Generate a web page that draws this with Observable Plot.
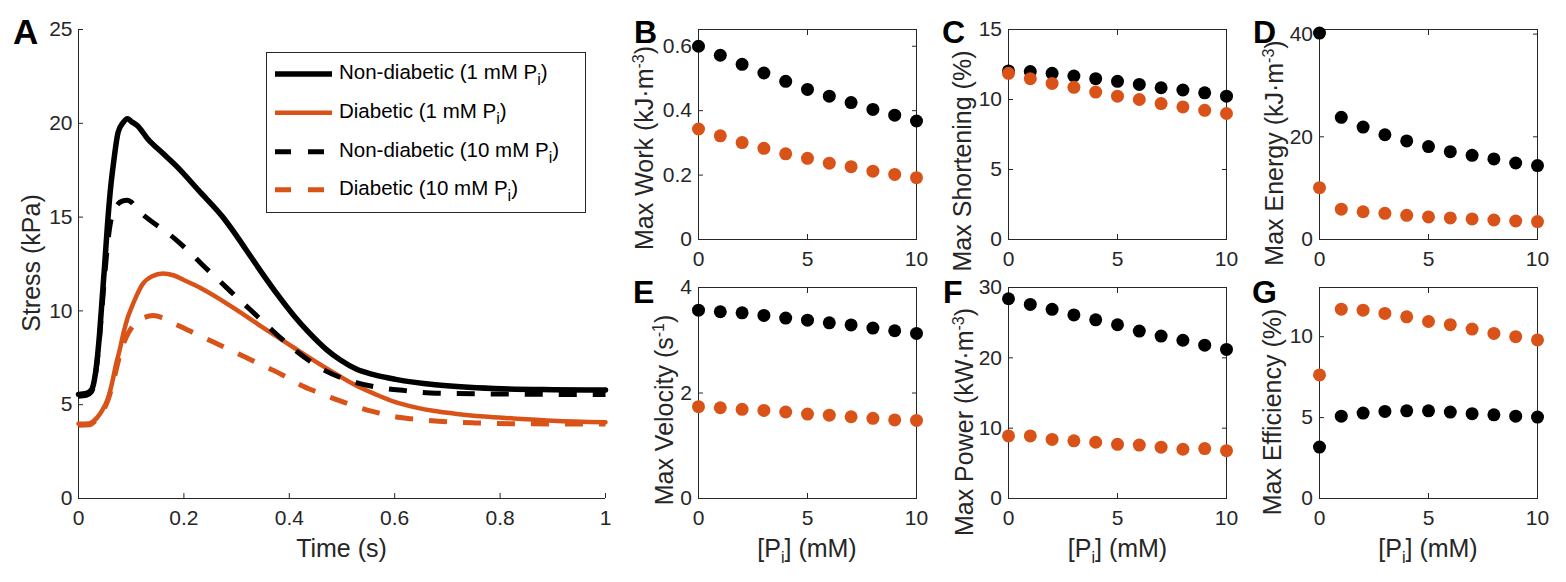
<!DOCTYPE html>
<html>
<head>
<meta charset="utf-8">
<script src="https://cdn.jsdelivr.net/npm/d3@7"></script>
<script src="https://cdn.jsdelivr.net/npm/@observablehq/plot@0.6"></script>
<style>
html,body{margin:0;padding:0;background:#fff;}
#fig{position:relative;width:1566px;height:582px;overflow:hidden;background:#fff;font-family:"Liberation Sans",Arial,Helvetica,sans-serif;}
#fig svg{position:absolute;overflow:visible;}
</style>
</head>
<body>
<div id="fig"></div>
<script>
// ---------- Panel A: stress transients ----------
const nd1T = [0,0.015,0.025,0.03,0.035,0.04,0.045,0.05,0.055,0.06,0.067,0.075,0.085,0.093,0.1,0.112,0.131,0.16,0.19,0.228,0.273,0.3,0.318,0.35,0.377,0.41,0.437,0.47,0.497,0.527,0.56,0.602,0.677,0.789,0.9,1.0];
const nd1S = [5.55,5.6,5.8,6.3,7.3,8.8,10.7,12.6,14.6,16.3,18.0,19.5,20.05,20.24,20.1,19.87,19.18,18.4,17.6,16.42,15.03,14.0,13.26,11.95,10.89,9.7,8.85,7.95,7.38,6.9,6.6,6.35,6.06,5.86,5.8,5.78];
const d1T = [0,0.02,0.034,0.045,0.056,0.064,0.071,0.078,0.086,0.094,0.101,0.11,0.122,0.14,0.16,0.18,0.198,0.23,0.265,0.3,0.34,0.378,0.415,0.45,0.489,0.525,0.564,0.6,0.639,0.676,0.714,0.77,0.826,0.9,1.0];
const d1S = [3.98,4.0,4.27,4.7,5.35,6.2,7.13,7.9,8.9,9.7,10.2,10.8,11.44,11.85,12.0,11.9,11.67,11.25,10.68,10.05,9.3,8.6,7.92,7.3,6.63,6.05,5.55,5.15,4.86,4.66,4.52,4.37,4.27,4.15,4.07];
const nd10T = [0,0.015,0.025,0.03,0.035,0.04,0.045,0.05,0.055,0.06,0.067,0.075,0.083,0.092,0.1,0.112,0.131,0.157,0.183,0.21,0.235,0.258,0.28,0.302,0.325,0.348,0.37,0.392,0.415,0.44,0.467,0.497,0.527,0.557,0.587,0.62,0.653,0.7,0.8,0.9,1.0];
const nd10S = [5.45,5.5,5.7,6.2,7.2,8.6,10.3,12.0,13.5,14.6,15.3,15.7,15.85,15.9,15.8,15.4,14.93,14.4,13.84,13.15,12.46,11.85,11.27,10.68,10.09,9.48,8.9,8.35,7.82,7.3,6.83,6.45,6.18,5.98,5.85,5.75,5.65,5.6,5.57,5.55,5.55];
const d10T = [0,0.02,0.034,0.045,0.056,0.064,0.071,0.078,0.086,0.095,0.108,0.125,0.142,0.16,0.18,0.206,0.232,0.258,0.284,0.31,0.34,0.37,0.396,0.422,0.452,0.482,0.512,0.542,0.571,0.6,0.63,0.661,0.7,0.751,0.85,1.0];
const d10S = [3.9,3.93,4.2,4.6,5.25,6.0,6.8,7.6,8.3,8.85,9.35,9.65,9.75,9.62,9.35,9.0,8.65,8.31,7.97,7.62,7.22,6.83,6.45,6.04,5.68,5.35,5.05,4.76,4.55,4.36,4.25,4.17,4.09,4.03,3.98,3.97];
const legendLabels = ["Non-diabetic (1 mM P", "Diabetic (1 mM P", "Non-diabetic (10 mM P", "Diabetic (10 mM P"];
const timeTicks = [0,0.2,0.4,0.6,0.8,1];
const stressTicks = [0,5,10,15,20,25];

// ---------- Panels B-G: [Pi] dependence ----------
const piConc   = [0,1,2,3,4,5,6,7,8,9,10];
const workND   = [0.600,0.572,0.544,0.517,0.491,0.466,0.445,0.425,0.404,0.386,0.368];
const workD    = [0.343,0.322,0.301,0.283,0.266,0.252,0.237,0.226,0.212,0.202,0.192];
const shortND  = [12.04,12.0,11.87,11.68,11.49,11.3,11.08,10.84,10.68,10.48,10.24];
const shortD   = [11.87,11.49,11.15,10.87,10.53,10.24,10.0,9.71,9.47,9.23,9.0];
const energyND = [40.2,23.8,21.9,20.4,19.2,18.1,17.1,16.4,15.7,14.9,14.4];
const energyD  = [10.1,5.9,5.4,5.1,4.7,4.4,4.2,4.0,3.8,3.6,3.5];
const velND    = [3.57,3.54,3.52,3.47,3.42,3.38,3.33,3.29,3.23,3.18,3.13];
const velD     = [1.74,1.72,1.69,1.67,1.64,1.60,1.58,1.55,1.52,1.49,1.48];
const powerND  = [28.4,27.6,26.9,26.1,25.4,24.7,23.8,23.1,22.5,21.8,21.2];
const powerD   = [8.9,8.9,8.4,8.2,8.0,7.7,7.6,7.3,7.0,7.1,6.8];
const effND    = [3.18,5.09,5.28,5.38,5.42,5.42,5.34,5.24,5.17,5.09,5.03];
const effD     = [7.64,11.7,11.64,11.44,11.23,10.94,10.74,10.47,10.2,10.0,9.8];
const piTicks  = [0,5,10];

const ORANGE = "#D95319";
const AX = "#262626";
const FONT = '"Liberation Sans", Arial, Helvetica, sans-serif';
const fig = document.getElementById("fig");
const fmt = d => String(d);

function place(svg, left, top) {
  svg.style.left = left + "px";
  svg.style.top = top + "px";
  fig.appendChild(svg);
}

// ---- Panel A ----
{
  const ml = 78, mr = 15, mt = 29, mb = 84;
  const rows = (T, S) => T.map((t, i) => ({t, s: S[i]}));
  const series = [
    {d: rows(nd1T, nd1S), stroke: "#000", w: 5.5, dash: null},
    {d: rows(d1T, d1S), stroke: ORANGE, w: 4.5, dash: null},
    {d: rows(nd10T, nd10S), stroke: "#000", w: 5, dash: "18,16"},
    {d: rows(d10T, d10S), stroke: ORANGE, w: 5, dash: "18,16"}
  ];
  const svg = Plot.plot({
    width: 620, height: 582,
    marginLeft: ml, marginRight: mr, marginTop: mt, marginBottom: mb,
    style: {background: "transparent", fontFamily: FONT, fontSize: "21px", color: AX},
    x: {domain: [0, 1]},
    y: {domain: [0, 25]},
    marks: [
      Plot.ruleX([0], {stroke: AX, strokeWidth: 1}),
      Plot.ruleY([0], {stroke: AX, strokeWidth: 1}),
      Plot.axisX({ticks: timeTicks, tickFormat: fmt, tickSize: -5, tickPadding: 17, label: null, color: AX}),
      Plot.axisY({ticks: stressTicks, tickFormat: fmt, tickSize: -5, tickPadding: 11, label: null, color: AX}),
      ...series.map(s => Plot.line(s.d, {
        x: "t", y: "s", stroke: s.stroke, strokeWidth: s.w,
        strokeDasharray: s.dash, strokeLinecap: s.dash ? "butt" : "round",
        strokeLinejoin: "round", curve: "monotone-x"
      }))
    ]
  });
  place(svg, 0, 0);
}

// ---- Panels B-G ----
function smallPanel(frameLeft, frameTop, frameH, yDomain, yTicks, nd, dd) {
  const ml = 60, mr = 14, mt = 12, mb = 40, W = 218;
  const data = piConc.map((p, i) => ({p, nd: nd[i], d: dd[i]}));
  const svg = Plot.plot({
    width: W + ml + mr, height: frameH + mt + mb,
    marginLeft: ml, marginRight: mr, marginTop: mt, marginBottom: mb,
    style: {background: "transparent", fontFamily: FONT, fontSize: "21px", color: AX},
    x: {domain: [0, 10]},
    y: {domain: yDomain},
    marks: [
      Plot.frame({stroke: AX, strokeWidth: 1}),
      Plot.axisX({ticks: piTicks, tickFormat: fmt, tickSize: -5, tickPadding: 17, label: null, color: AX}),
      Plot.axisX({ticks: piTicks, anchor: "top", tickSize: -5, fill: "none", stroke: AX, label: null}),
      Plot.axisY({ticks: yTicks, tickFormat: fmt, tickSize: -5, tickPadding: 11.5, label: null, color: AX}),
      Plot.axisY({ticks: yTicks, anchor: "right", tickSize: -5, fill: "none", stroke: AX, label: null}),
      Plot.dot(data, {x: "p", y: "nd", r: 6.5, fill: "#000", stroke: null}),
      Plot.dot(data, {x: "p", y: "d", r: 6.5, fill: ORANGE, stroke: null})
    ]
  });
  place(svg, frameLeft - ml, frameTop - mt);
}
smallPanel(698, 29, 210, [0, 0.652], [0, 0.2, 0.4, 0.6], workND, workD);
smallPanel(1008, 29, 210, [0, 15], [0, 5, 10, 15], shortND, shortD);
smallPanel(1319, 29, 210, [0, 40.9], [0, 20, 40], energyND, energyD);
smallPanel(698, 287, 211, [0, 4], [0, 2, 4], velND, velD);
smallPanel(1008, 287, 211, [0, 30], [0, 10, 20, 30], powerND, powerD);
smallPanel(1319, 287, 211, [0, 13.04], [0, 5, 10], effND, effD);

// ---- Overlay: panel letters, axis labels, legend ----
const ov = d3.select(fig).append("svg")
  .attr("width", 1566).attr("height", 582)
  .style("left", "0px").style("top", "0px")
  .style("font-family", FONT);

const letters = [["A", 13, 44, 35], ["B", 634, 43, 32], ["C", 942, 43, 32], ["D", 1253, 43, 32], ["E", 633, 303, 32], ["F", 943, 303, 32], ["G", 1252, 303, 32]];
letters.forEach(([t, x, y, fs]) => ov.append("text").attr("x", x).attr("y", y)
  .attr("font-size", fs).attr("font-weight", "bold").attr("fill", "#000").text(t));

function addParts(t, parts) {
  let shift = 0;
  parts.forEach(p => {
    const sp = t.append("tspan");
    let target = 0, size = null;
    if (p.sup) { target = -9; size = 16; }
    if (p.sub) { target = 6; size = 16; }
    sp.attr("dy", target - shift);
    if (size) sp.attr("font-size", size);
    shift = target;
    sp.text(p.t);
  });
}
function rotLabel(x, y, parts) {
  const t = ov.append("text").attr("transform", `translate(${x},${y}) rotate(-90)`)
    .attr("text-anchor", "middle").attr("font-size", 25).attr("fill", AX);
  addParts(t, parts);
}
rotLabel(40, 263, [{t: "Stress (kPa)"}]);
rotLabel(653, 148, [{t: "Max Work (kJ\u00B7m"}, {t: "-3", sup: true}, {t: ")"}]);
rotLabel(971, 161, [{t: "Max Shortening (%)"}]);
rotLabel(1283, 153, [{t: "Max Energy (kJ\u00B7m"}, {t: "-3", sup: true}, {t: ")"}]);
rotLabel(673, 410, [{t: "Max Velocity (s"}, {t: "-1", sup: true}, {t: ")"}]);
rotLabel(973, 422, [{t: "Max Power (kW\u00B7m"}, {t: "-3", sup: true}, {t: ")"}]);
rotLabel(1281, 412, [{t: "Max Efficiency (%)"}]);

ov.append("text").attr("x", 341.5).attr("y", 557).attr("text-anchor", "middle")
  .attr("font-size", 25).attr("fill", AX).text("Time (s)");
[807, 1117.5, 1428].forEach(cx => {
  const t = ov.append("text").attr("x", cx).attr("y", 557).attr("text-anchor", "middle")
    .attr("font-size", 25).attr("fill", AX);
  addParts(t, [{t: "[P"}, {t: "i", sub: true}, {t: "] (mM)"}]);
});

// legend
ov.append("rect").attr("x", 266.5).attr("y", 52.5).attr("width", 319).attr("height", 160)
  .attr("fill", "#fff").attr("stroke", AX).attr("stroke-width", 1);
const legStyles = [
  {stroke: "#000", w: 5.5, dash: null},
  {stroke: ORANGE, w: 4.5, dash: null},
  {stroke: "#000", w: 5, dash: "16,17"},
  {stroke: ORANGE, w: 5, dash: "16,17"}
];
const legY = [74, 112.7, 151.7, 189.7];
legendLabels.forEach((lab, i) => {
  const st = legStyles[i];
  ov.append("line").attr("x1", 275).attr("x2", 332).attr("y1", legY[i]).attr("y2", legY[i])
    .attr("stroke", st.stroke).attr("stroke-width", st.w)
    .attr("stroke-dasharray", st.dash).attr("stroke-linecap", "butt");
  const t = ov.append("text").attr("x", 339).attr("y", legY[i] + 5)
    .attr("font-size", 20.5).attr("fill", "#000");
  addParts(t, [{t: lab}, {t: "i", sub: true}, {t: ")"}]);
});
</script>
</body>
</html>
